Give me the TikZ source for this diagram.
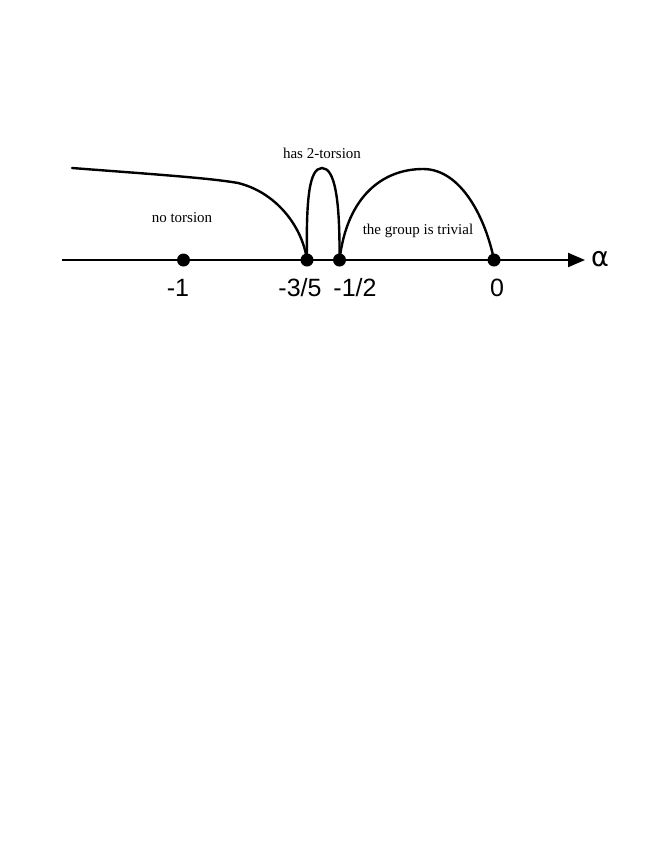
\documentclass[tikz,border=0pt]{standalone}
\usepackage{fontspec}
\setmainfont{Liberation Serif}
\newfontfamily\labfont{Liberation Sans}
\newfontfamily\symfont{DejaVu Sans}
\usetikzlibrary{arrows.meta}
\begin{document}
\begin{tikzpicture}[x=1pt,y=-1pt,
  dot/.style={circle,fill=black,inner sep=0pt,minimum size=13pt},
  numlab/.style={font=\labfont\fontsize{25}{25}\selectfont,anchor=base,inner sep=0pt},
  txt/.style={font=\fontsize{15}{15}\selectfont,anchor=base,inner sep=0pt},
  curve/.style={line width=2.4pt,line cap=round},
  axis/.style={line width=2.1pt,-{Triangle[length=17pt,width=14pt]}}]
\useasboundingbox (0,0) rectangle (664,860);
\coordinate (s) at (62,260);
\coordinate (e) at (585,260);
\coordinate (c0) at (72,168);
\draw[axis] (s) -- (e);
\node[dot] (m1) at (183.5,260) {};
\node[dot] (m35) at (307,260) {};
\node[dot] (m12) at (339.5,260) {};
\node[dot] (z) at (494,260) {};
\node[numlab] (l1) at (178,296) {-1};
\node[numlab] (l35) at (300,296) {-3/5};
\node[numlab] (l12) at (355,296) {-1/2};
\node[numlab] (l0) at (497,296) {0};
\node[anchor=center,inner sep=0pt,font=\symfont\fontsize{27}{27}\selectfont] (al) at (600,259) {α};
\node[txt] (t1) at (182,222) {no torsion};
\node[txt] (t2) at (322,158) {has 2-torsion};
\node[txt] (t3) at (418,234) {the group is trivial};
\draw[curve] (c0) .. controls (150,174) and (210,178) .. (238,183) .. controls (275,192) and (302,225) .. (m35.center);
\draw[curve] (m35.center) .. controls (306,200) and (309,168) .. (322,168) .. controls (335,168) and (340,200) .. (m12.center);
\draw[curve] (m12.center) .. controls (347,196) and (383,169) .. (423,169) .. controls (462,169) and (486,220) .. (z.center);
\end{tikzpicture}
\end{document}
